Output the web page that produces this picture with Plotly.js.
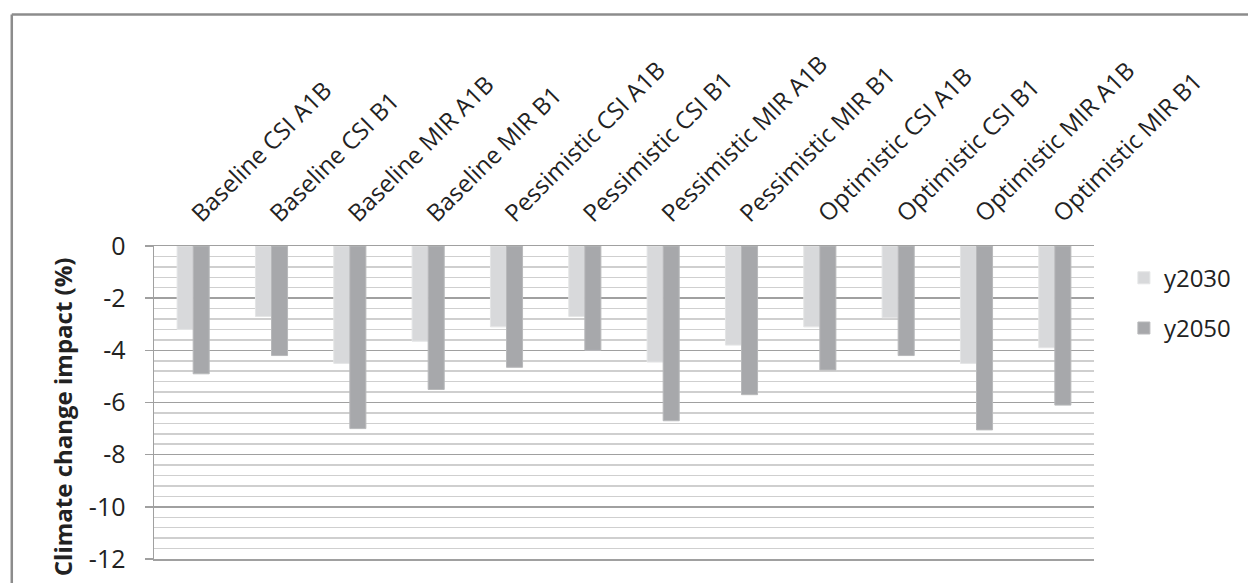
<!DOCTYPE html>
<html>
<head>
<meta charset="utf-8">
<script src="https://cdn.plot.ly/plotly-3.0.1.min.js"></script>
<style>
html,body{margin:0;padding:0;background:#fff;}
#chart{width:1248px;height:583px;}
</style>
</head>
<body>
<div id="chart"></div>
<script>
var categories = [
  "Baseline CSI A1B", "Baseline CSI B1", "Baseline MIR A1B", "Baseline MIR B1",
  "Pessimistic CSI A1B", "Pessimistic CSI B1", "Pessimistic MIR A1B", "Pessimistic MIR B1",
  "Optimistic CSI A1B", "Optimistic CSI B1", "Optimistic MIR A1B", "Optimistic MIR B1"
];
var y2030 = [-3.2, -2.7, -4.5, -3.65, -3.1, -2.7, -4.45, -3.8, -3.1, -2.75, -4.5, -3.9];
var y2050 = [-4.9, -4.2, -7.0, -5.5, -4.65, -4.0, -6.7, -5.7, -4.75, -4.2, -7.05, -6.1];
var yTickVals = [0, -2, -4, -6, -8, -10, -12];
var yTickText = ["0", "-2", "-4", "-6", "-8", "-10", "-12"];
var yTitle = "Climate change impact (%)";

var FONT = "Open Sans, Lato, sans-serif";

var traces = [
  {type: "bar", name: "y2030", x: categories, y: y2030, legendgroup: "a",
   marker: {color: "#d8d9db", line: {color: "#e4e5e6", width: 1}}},
  {type: "bar", name: "y2050", x: categories, y: y2050, legendgroup: "b",
   marker: {color: "#a7a8ab", line: {color: "#b8b9bb", width: 1}}}
];

var layout = {
  width: 1248, height: 583,
  margin: {l: 154, r: 152, t: 246, b: 24, pad: 0},
  paper_bgcolor: "#ffffff", plot_bgcolor: "#ffffff",
  font: {family: FONT, size: 24, color: "#222222"},
  barmode: "group", bargap: 0.59, bargroupgap: 0,
  showlegend: true,
  legend: {x: 1.0318, y: 0.969, xanchor: "left", yanchor: "top",
           font: {family: FONT, size: 24, color: "#222"}, tracegroupgap: 16,
           itemwidth: 30, bgcolor: "rgba(0,0,0,0)"},
  xaxis: {side: "top", type: "category", tickangle: -45, showgrid: false,
          showline: true, mirror: true, linecolor: "#a0a0a0", linewidth: 1.5, ticks: "",
          ticklabelstandoff: 8,
          tickfont: {family: FONT, size: 24, color: "#222"}, automargin: false},
  yaxis: {range: [-12, 0], tickvals: yTickVals, ticktext: yTickText, ticks: "outside", ticklen: 8,
          tickcolor: "#a0a0a0", tickwidth: 1.5, showline: true, linecolor: "#a0a0a0",
          linewidth: 1.5, showgrid: true, gridcolor: "#a0a0a0", gridwidth: 1.5,
          zeroline: false, ticklabelstandoff: 14,
          minor: {dtick: 0.4, tick0: 0, showgrid: true, gridcolor: "#cfcfcf", gridwidth: 1.5, ticks: ""},
          tickfont: {family: FONT, size: 25, color: "#222"},
          automargin: false},
  annotations: [
    {text: "<b>" + yTitle + "</b>", xref: "paper", yref: "paper", x: -0.0966, y: 0.4537,
     xanchor: "center", yanchor: "middle", textangle: -90, showarrow: false,
     font: {family: FONT, size: 24, color: "#222"}}
  ],
  shapes: [
    {type: "line", xref: "paper", yref: "paper", x0: -0.1513, x1: -0.1513, y0: -0.2, y1: 1.7396,
     line: {color: "#8c8c8c", width: 2.5}},
    {type: "line", xref: "paper", yref: "paper", x0: -0.1513, x1: 1.3, y0: 1.7396, y1: 1.7396,
     line: {color: "#8c8c8c", width: 2.5}}
  ]
};

Plotly.newPlot("chart", traces, layout, {displayModeBar: false, staticPlot: true});
</script>
</body>
</html>
